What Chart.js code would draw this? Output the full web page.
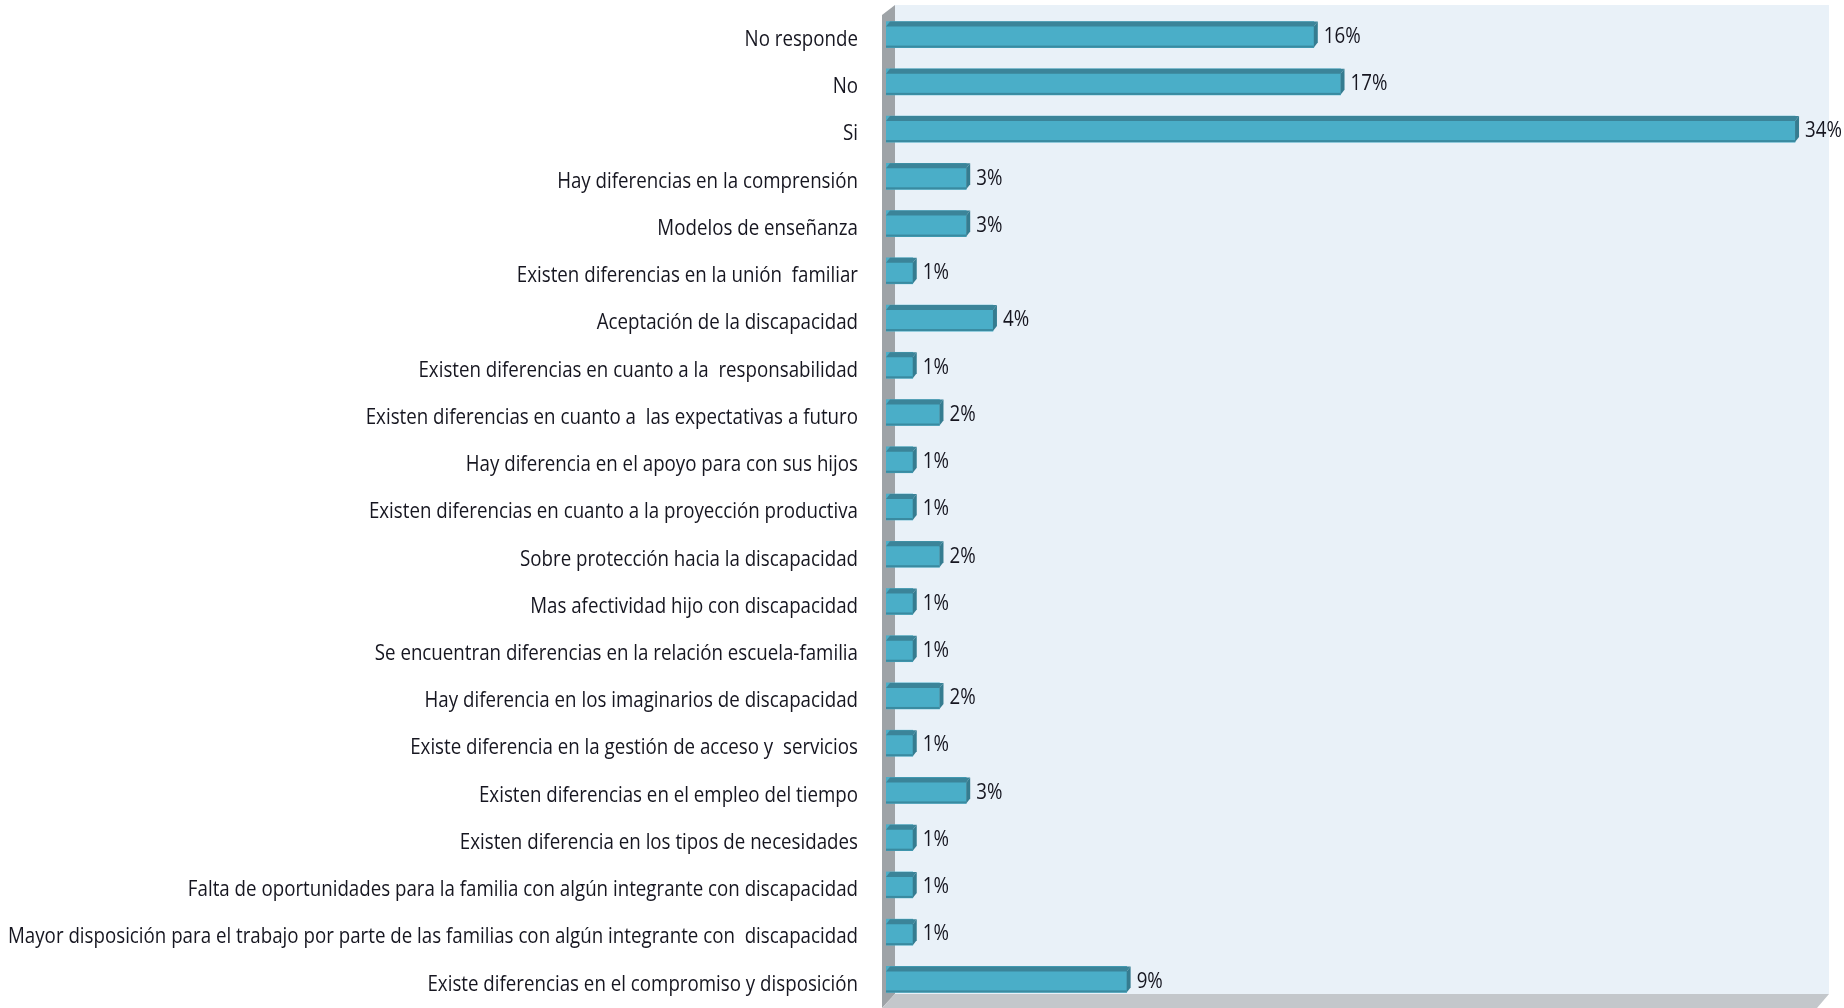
<!DOCTYPE html>
<html>
<head>
<meta charset="utf-8">
<script src="https://cdn.jsdelivr.net/npm/chart.js@4/dist/chart.umd.min.js"></script>
<style>
html,body{margin:0;padding:0;background:#fff;}
#wrap{width:1844px;height:1008px;position:relative;}
</style>
</head>
<body>
<div id="wrap"><canvas id="c" width="1844" height="1008"></canvas></div>
<script>
const categories = [
  "No responde",
  "No",
  "Si",
  "Hay diferencias en la comprensión",
  "Modelos de enseñanza",
  "Existen diferencias en la unión  familiar",
  "Aceptación de la discapacidad",
  "Existen diferencias en cuanto a la  responsabilidad",
  "Existen diferencias en cuanto a  las expectativas a futuro",
  "Hay diferencia en el apoyo para con sus hijos",
  "Existen diferencias en cuanto a la proyección productiva",
  "Sobre protección hacia la discapacidad",
  "Mas afectividad hijo con discapacidad",
  "Se encuentran diferencias en la relación escuela-familia",
  "Hay diferencia en los imaginarios de discapacidad",
  "Existe diferencia en la gestión de acceso y  servicios",
  "Existen diferencias en el empleo del tiempo",
  "Existen diferencia en los tipos de necesidades",
  "Falta de oportunidades para la familia con algún integrante con discapacidad",
  "Mayor disposición para el trabajo por parte de las familias con algún integrante con  discapacidad",
  "Existe diferencias en el compromiso y disposición"
];
const percentages = [16, 17, 34, 3, 3, 1, 4, 1, 2, 1, 1, 2, 1, 1, 2, 1, 3, 1, 1, 1, 9];
const valueLabels = percentages.map(v => v + "%");

const FONT_FAMILY = "'Open Sans', 'Noto Sans', sans-serif";
const FONT_SIZE = 22;
const FONT = FONT_SIZE + 'px ' + FONT_FAMILY;

// horizontal squeeze so the longest label spans ~850px like the narrow original font
function squeezeFor(ctx) {
  ctx.save();
  ctx.font = FONT;
  const longest = Math.max(...categories.map(c => ctx.measureText(c).width));
  ctx.restore();
  return Math.min(1, 850 / longest);
}

const backdrop = {
  id: 'backdrop',
  beforeDatasetsDraw(chart) {
    const ctx = chart.ctx, a = chart.chartArea;
    ctx.save();
    ctx.fillStyle = '#e9f1f8';
    ctx.fillRect(a.left + 9, a.top - 6, a.right - a.left - 9, a.bottom - a.top - 3);
    ctx.fillStyle = '#9ea3a7';
    ctx.beginPath();
    ctx.moveTo(a.left - 4, a.top + 4);
    ctx.lineTo(a.left + 9, a.top - 6);
    ctx.lineTo(a.left + 9, a.bottom - 9);
    ctx.lineTo(a.left - 4, a.bottom + 5);
    ctx.closePath();
    ctx.fill();
    ctx.fillStyle = '#c3c7cb';
    ctx.beginPath();
    ctx.moveTo(a.left + 9, a.bottom - 9);
    ctx.lineTo(a.right, a.bottom - 9);
    ctx.lineTo(a.right - 12, a.bottom + 5);
    ctx.lineTo(a.left - 4, a.bottom + 5);
    ctx.closePath();
    ctx.fill();
    ctx.restore();
  }
};

const barDeco = {
  id: 'barDeco',
  afterDatasetsDraw(chart) {
    const ctx = chart.ctx;
    const meta = chart.getDatasetMeta(0);
    const sq = squeezeFor(ctx);
    ctx.save();
    meta.data.forEach((bar, i) => {
      const top = bar.y - bar.height / 2;
      const bot = bar.y + bar.height / 2;
      const left = bar.base, right = bar.x;
      ctx.fillStyle = '#3b8499';
      ctx.beginPath();
      ctx.moveTo(left, top + 5);
      ctx.lineTo(left + 4, top);
      ctx.lineTo(right + 4, top);
      ctx.lineTo(right, top + 5);
      ctx.closePath();
      ctx.fill();
      ctx.fillStyle = '#357c90';
      ctx.beginPath();
      ctx.moveTo(right, top + 5);
      ctx.lineTo(right + 4, top);
      ctx.lineTo(right + 4, bot - 5);
      ctx.lineTo(right, bot);
      ctx.closePath();
      ctx.fill();
      ctx.fillStyle = '#3a8aa0';
      ctx.fillRect(left, bot - 2, right - left, 2);
      const lx = right + 10;
      ctx.save();
      ctx.translate(lx, 0);
      ctx.scale(sq, 1);
      ctx.fillStyle = '#161620';
      ctx.font = FONT;
      ctx.textAlign = 'left';
      ctx.textBaseline = 'middle';
      ctx.fillText(valueLabels[i], 0, bar.y + 2);
      ctx.restore();
    });
    ctx.restore();
  }
};

new Chart(document.getElementById('c'), {
  type: 'bar',
  data: {
    labels: categories,
    datasets: [{
      data: percentages,
      backgroundColor: '#4aaec8',
      borderWidth: 0,
      barThickness: 26
    }]
  },
  options: {
    indexAxis: 'y',
    responsive: false,
    animation: false,
    layout: { padding: { top: 11, bottom: 5, left: 0, right: 15 } },
    plugins: { legend: { display: false }, tooltip: { enabled: false } },
    scales: {
      x: { display: false, min: 0, max: 35.27 },
      y: {
        grid: { display: false, drawTicks: false },
        border: { display: false },
        afterFit(s) {
          s.width = 886;
          s.paddingTop = 0;
          s.paddingBottom = 0;
          if (!s._squeezed) {
            const orig = s.drawLabels;
            s._computeLabelArea = function () { return undefined; };
            s.drawLabels = function (area) {
              const ctx = this.ctx;
              const ax = this.right - this.options.ticks.padding;
              const sq = squeezeFor(ctx);
              ctx.save();
              ctx.translate(ax, 5);
              ctx.scale(sq, 1);
              ctx.translate(-ax, 0);
              orig.call(this, area);
              ctx.restore();
            };
            s._squeezed = true;
          }
        },
        ticks: {
          padding: 28,
          color: '#161620',
          font: { family: FONT_FAMILY, size: FONT_SIZE },
          autoSkip: false
        }
      }
    }
  },
  plugins: [backdrop, barDeco]
});
</script>
</body>
</html>
